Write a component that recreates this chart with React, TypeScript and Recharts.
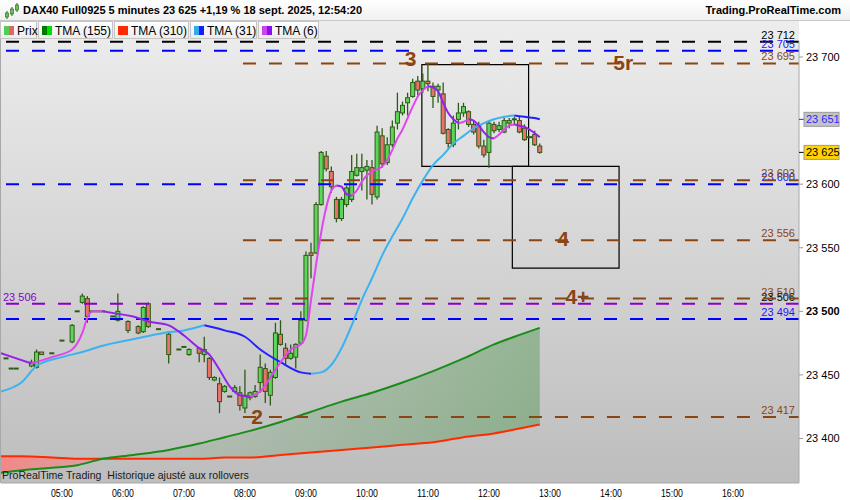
import React from 'react';
import {
  ComposedChart, Bar, Line, Area, XAxis, YAxis, ReferenceLine, ReferenceArea, ReferenceDot
} from 'recharts';

// 5-minute candles (time = candle open)
const candleTimes = [
  '04:05', '04:10', '04:15', '04:30', '04:35', '04:40', '04:50', '05:00', '05:10', '05:15',
  '05:20', '05:25', '05:30', '05:35', '05:40', '05:50', '05:55', '06:05', '06:15', '06:20',
  '06:25', '06:35', '06:45', '06:55', '07:00', '07:05', '07:15', '07:20', '07:25', '07:30',
  '07:35', '07:40', '07:45', '07:50', '07:55', '08:00', '08:05', '08:10', '08:15', '08:20',
  '08:25', '08:30', '08:35', '08:40', '08:45', '08:50', '08:55', '09:00', '09:05', '09:10',
  '09:15', '09:20', '09:25', '09:30', '09:35', '09:40', '09:45', '09:50', '09:55', '10:00',
  '10:05', '10:10', '10:15', '10:20', '10:25', '10:30', '10:35', '10:40', '10:45', '10:50',
  '10:55', '11:00', '11:05', '11:10', '11:15', '11:20', '11:25', '11:30', '11:35', '11:40',
  '11:45', '11:50', '11:55', '12:00', '12:05', '12:10', '12:15', '12:20', '12:25', '12:30',
  '12:35', '12:40', '12:45', '12:50',
];
const opens = [
  23463, 23455, 23455, 23457, 23456, 23468, 23467, 23477, 23476, 23500,
  23507, 23510, 23500, 23500, 23500, 23496, 23493, 23492, 23488, 23484,
  23506, 23486, 23482, 23470, 23472, 23466, 23471, 23466, 23463, 23446,
  23443, 23437, 23433, 23437, 23436, 23424, 23432, 23433, 23444, 23455,
  23434, 23448, 23482, 23471, 23463, 23464, 23475, 23493, 23546, 23546,
  23584, 23622, 23610, 23588, 23573, 23584, 23588, 23607, 23610, 23611,
  23613, 23590, 23638, 23617, 23631, 23648, 23656, 23664, 23669, 23681,
  23675, 23681, 23677, 23674, 23671, 23643, 23631, 23651, 23656, 23657,
  23647, 23646, 23630, 23625, 23647, 23643, 23641, 23648, 23650, 23650,
  23644, 23637, 23639, 23630,
];
const highs = [
  23463, 23455, 23455, 23462, 23470, 23468, 23467, 23477, 23490, 23500,
  23514, 23512, 23500, 23500, 23500, 23496, 23514, 23493, 23489, 23504,
  23507, 23486, 23483, 23470, 23472, 23471, 23472, 23480, 23464, 23449,
  23448, 23442, 23433, 23442, 23441, 23454, 23437, 23442, 23466, 23459,
  23454, 23491, 23493, 23475, 23474, 23475, 23500, 23547, 23554, 23586,
  23626, 23626, 23614, 23590, 23590, 23599, 23623, 23624, 23624, 23619,
  23619, 23646, 23644, 23637, 23650, 23672, 23665, 23672, 23683, 23685,
  23687, 23695, 23680, 23679, 23680, 23644, 23654, 23664, 23664, 23658,
  23650, 23649, 23635, 23650, 23649, 23649, 23652, 23652, 23653, 23653,
  23647, 23637, 23642, 23632,
];
const lows = [
  23463, 23455, 23455, 23456, 23455, 23466, 23467, 23477, 23475, 23500,
  23506, 23491, 23500, 23500, 23500, 23496, 23492, 23483, 23482, 23483,
  23487, 23486, 23459, 23470, 23472, 23465, 23460, 23460, 23446, 23445,
  23420, 23436, 23433, 23436, 23422, 23420, 23430, 23432, 23436, 23428,
  23426, 23447, 23473, 23458, 23462, 23455, 23474, 23492, 23526, 23545,
  23583, 23610, 23593, 23570, 23571, 23582, 23586, 23606, 23595, 23588,
  23584, 23588, 23613, 23615, 23629, 23643, 23654, 23654, 23668, 23670,
  23672, 23673, 23660, 23664, 23639, 23628, 23629, 23643, 23653, 23645,
  23639, 23628, 23621, 23613, 23640, 23641, 23640, 23644, 23647, 23640,
  23634, 23637, 23630, 23624,
];
const closes = [
  23463, 23455, 23455, 23460, 23468, 23466, 23467, 23477, 23489, 23500,
  23512, 23496, 23500, 23500, 23500, 23496, 23500, 23485, 23483, 23503,
  23488, 23486, 23466, 23470, 23472, 23470, 23467, 23470, 23448, 23448,
  23429, 23441, 23433, 23440, 23426, 23434, 23436, 23437, 23456, 23437,
  23452, 23483, 23474, 23463, 23467, 23474, 23493, 23544, 23544, 23584,
  23625, 23612, 23598, 23573, 23588, 23597, 23610, 23613, 23613, 23614,
  23592, 23641, 23616, 23631, 23645, 23657, 23662, 23668, 23680, 23674,
  23681, 23679, 23669, 23677, 23640, 23632, 23648, 23656, 23661, 23647,
  23641, 23630, 23623, 23648, 23642, 23646, 23650, 23650, 23651, 23641,
  23635, 23637, 23631, 23625,
];

// TMA (6)
const tma6Times = [
  '04:00', '04:15', '04:30', '04:50', '05:10', '05:20', '05:25', '05:30', '05:40', '05:55',
  '06:10', '06:25', '06:45', '07:00', '07:15', '07:25', '07:35', '07:45', '07:55', '08:05',
  '08:15', '08:25', '08:35', '08:45', '08:55', '09:00', '09:05', '09:10', '09:15', '09:20',
  '09:25', '09:30', '09:35', '09:40', '09:45', '09:50', '09:55', '10:00', '10:05', '10:15',
  '10:20', '10:25', '10:30', '10:35', '10:40', '10:45', '10:50', '10:55', '11:00', '11:05',
  '11:10', '11:15', '11:20', '11:25', '11:30', '11:35', '11:40', '11:45', '11:50', '11:55',
  '12:00', '12:05', '12:10', '12:15', '12:20', '12:25', '12:30', '12:35', '12:40', '12:45',
  '12:50',
];
const tma6Values = [
  23467, 23463, 23459, 23464, 23470, 23483, 23495, 23500, 23500, 23498,
  23496, 23492, 23489, 23481, 23471, 23466, 23454, 23441, 23434, 23433,
  23437, 23448, 23460, 23470, 23474, 23481, 23509, 23537, 23562, 23582,
  23595, 23599, 23598, 23592, 23591, 23595, 23602, 23607, 23610, 23614,
  23619, 23627, 23636, 23643, 23652, 23661, 23669, 23674, 23677, 23676,
  23673, 23664, 23656, 23651, 23648, 23649, 23651, 23650, 23646, 23641,
  23637, 23636, 23639, 23643, 23646, 23647, 23646, 23645, 23643, 23640,
  23637,
];

// TMA (31)
const tma31Times = [
  '04:00', '04:20', '04:35', '05:00', '05:20', '05:40', '06:10', '06:40', '07:00', '07:20',
  '07:40', '08:00', '08:15', '08:35', '08:55', '09:05', '09:15', '09:25', '09:35', '09:45',
  '09:55', '10:05', '10:15', '10:25', '10:35', '10:45', '10:55', '11:05', '11:15', '11:25',
  '11:35', '11:45', '11:55', '12:05', '12:15', '12:25', '12:35', '12:45', '12:50',
];
const tma31Values = [
  23437, 23444, 23457, 23464, 23468, 23473, 23478, 23483, 23485, 23489,
  23485, 23480, 23470, 23460, 23452, 23451, 23452, 23458, 23471, 23489,
  23509, 23526, 23544, 23559, 23573, 23589, 23603, 23615, 23623, 23632,
  23638, 23644, 23648, 23651, 23653, 23654, 23653, 23652, 23651,
];

// TMA (155) / TMA (310)
const tmaLongTimes = [
  '04:00', '04:20', '04:50', '05:15', '05:40', '06:10', '06:45', '07:15', '07:40', '08:05',
  '08:35', '09:05', '09:35', '10:05', '10:35', '11:05', '11:35', '12:05', '12:25', '12:50',
];
const tma155Values = [
  23373, 23375, 23377, 23379, 23384, 23387, 23391, 23396, 23401, 23406,
  23413, 23421, 23429, 23436, 23444, 23453, 23463, 23474, 23480, 23487,
];
const tma310Values = [
  23386, 23386, 23385, 23384, 23384, 23384, 23384, 23384, 23385, 23385,
  23387, 23389, 23391, 23393, 23395, 23397, 23401, 23404, 23407, 23411,
];

const timeTicks = ['05:00', '06:00', '07:00', '08:00', '09:00', '10:00', '11:00', '12:00', '13:00', '14:00', '15:00', '16:00'];
const priceTicks = [23400, 23450, 23500, 23550, 23600, 23625, 23651, 23700];
const lastPrice = 23625;
const lastTma31 = 23651;

// horizontal levels
const blackLevels = [23712];
const blueLevels = [23705, 23600, 23494];
const purpleLevels = [23506];
const brownLevels = [23695, 23603, 23556, 23510, 23417];
const brownStart = '07:58';

// wave counts and boxes
const waveLabels = ['2', '3', '4', '4+', '5r'];
const waveTimes = ['08:12', '10:43', '13:13', '13:27', '14:12'];
const wavePrices = [23418, 23699, 23558, 23512, 23696];
const boxStarts = ['10:54', '12:23'];
const boxEnds = ['12:39', '14:08'];
const boxHighs = [23694, 23614];
const boxLows = [23614, 23534];

const BASE = 4 * 60;
const toMin = (s: string) => {
  const [h, m] = s.split(':').map(Number);
  return h * 60 + m - BASE;
};
const fmtTime = (m: number) => {
  const t = m + BASE;
  return `${String(Math.floor(t / 60)).padStart(2, '0')}:${String(t % 60).padStart(2, '0')}`;
};
const fmtPrice = (v: number) => `${Math.floor(v / 1000)} ${String(v % 1000).padStart(3, '0')}`;

const X_MAX = 785;
const Y_DOMAIN: [number, number] = [23365, 23712.6];

const WICK = '#2f5a16';
const UP = '#5bd65b';
const DOWN = '#e8736b';
const BROWN = '#8b4513';
const NARROW = '"Liberation Sans Narrow", "Arial Narrow", Arial, sans-serif';

const candles = candleTimes.map((t, i) => ({
  t: toMin(t), open: opens[i], high: highs[i], low: lows[i], close: closes[i],
}));

const toPoints = (times: string[], values: number[]) =>
  times.map((t, i) => ({ t: toMin(t), v: values[i] }));

// split a line into rising / falling runs so each gets its own colour
const splitRuns = (pts: { t: number; v: number }[]) => {
  const runs: { up: boolean; pts: { t: number; v: number }[] }[] = [];
  for (let i = 1; i < pts.length; i++) {
    const up = pts[i].v >= pts[i - 1].v;
    const last = runs[runs.length - 1];
    if (last && last.up === up) last.pts.push(pts[i]);
    else runs.push({ up, pts: [pts[i - 1], pts[i]] });
  }
  return runs;
};

const tma6Runs = splitRuns(toPoints(tma6Times, tma6Values));
const tma31Runs = splitRuns(toPoints(tma31Times, tma31Values));
const tma155 = toPoints(tmaLongTimes, tma155Values);
const tma310 = toPoints(tmaLongTimes, tma310Values);

const bandData = tmaLongTimes.map((t, i) => ({ t: toMin(t), a: tma155Values[i], b: tma310Values[i] }));
const crossIdx = bandData.findIndex((d) => d.a >= d.b);
const pinkBand = bandData.slice(0, crossIdx + 1).map((d) => ({ t: d.t, range: [d.a, d.b] }));
const greenBand = bandData.slice(crossIdx).map((d) => ({ t: d.t, range: [d.b, d.a] }));

const CandleShape = (props: any) => {
  const { x, y, width, height, payload } = props;
  if (x == null || y == null || !payload) return null;
  const { open, close, high, low } = payload;
  const cx = x + width / 2;
  if (high === low) {
    return <line x1={cx - 2.5} x2={cx + 2.5} y1={y} y2={y} stroke={WICK} strokeWidth={2} />;
  }
  const k = height / (high - low);
  const py = (v: number) => y + (high - v) * k;
  const top = py(Math.max(open, close));
  const bot = py(Math.min(open, close));
  return (
    <g>
      <line x1={cx} x2={cx} y1={y} y2={y + height} stroke={WICK} strokeWidth={1.3} />
      {bot - top < 1.5 ? (
        <line x1={cx - 2.5} x2={cx + 2.5} y1={top} y2={top} stroke={WICK} strokeWidth={2} />
      ) : (
        <rect x={cx - 2} y={top} width={4} height={bot - top}
          fill={close >= open ? UP : DOWN} stroke={WICK} strokeWidth={1} />
      )}
    </g>
  );
};

const LevelLabel = (props: any) => {
  const { viewBox, text, color, leftText, leftColor } = props;
  if (!viewBox) return null;
  return (
    <g style={{ fontFamily: 'Arial, sans-serif' }}>
      <text x={viewBox.x + viewBox.width - 4} y={viewBox.y - 3} textAnchor="end" fontSize={11} fill={color}>{text}</text>
      {leftText && (
        <text x={viewBox.x + 2} y={viewBox.y - 3} fontSize={11} fill={leftColor}>{leftText}</text>
      )}
    </g>
  );
};

const TimeTick = (props: any) => {
  const { x, y, payload } = props;
  return (
    <text x={x} y={y + 14} textAnchor="middle" fontSize={11} fill="#000" textLength={22}
      lengthAdjust="spacingAndGlyphs" style={{ fontFamily: NARROW }}>
      {fmtTime(payload.value)}
    </text>
  );
};

const PriceTick = (props: any) => {
  const { x, y, payload } = props;
  const v = payload.value;
  const ax = x;
  if (v === lastTma31 || v === lastPrice) {
    const isLast = v === lastPrice;
    return (
      <g style={{ fontFamily: 'Arial, sans-serif' }}>
        <line x1={ax} x2={ax + 5} y1={y} y2={y} stroke={isLast ? '#000' : '#2020ff'} />
        <rect x={ax + 5} y={y - 7} width={35} height={14} fill={isLast ? '#ffd400' : '#c4c4c4'} stroke="#999" />
        <text x={ax + 7} y={y + 4} fontSize={11} fill={isLast ? '#000' : '#2a2aff'}>{fmtPrice(v)}</text>
      </g>
    );
  }
  return (
    <g style={{ fontFamily: 'Arial, sans-serif' }}>
      <line x1={ax} x2={ax + 4} y1={y} y2={y} stroke="#999" />
      <text x={ax + 7} y={y + 4} fontSize={11} fill="#000" fontWeight={v === 23500 ? 'bold' : 'normal'}>{fmtPrice(v)}</text>
    </g>
  );
};

const legendItems = [
  { label: 'Prix', c1: '#55cc55', c2: '#e06666', w: 37 },
  { label: 'TMA (155)', c1: '#007a00', c2: '#00dd00', w: 75 },
  { label: 'TMA (310)', c1: '#ff2a00', c2: '#ff2a00', w: 75 },
  { label: 'TMA (31)', c1: '#33aaee', c2: '#1a1aff', w: 67 },
  { label: 'TMA (6)', c1: '#cc44ee', c2: '#8a10f0', w: 61 },
];

export default function App() {
  let lx = 0;
  return (
    <div style={{ position: 'absolute', left: 0, top: 0, width: 850, height: 500, background: '#fff', overflow: 'hidden', fontFamily: 'Arial, "Liberation Sans", sans-serif' }}>
      <div style={{ position: 'absolute', left: 0, top: 21, width: 798, height: 462, background: 'linear-gradient(#ededed, #bdbdbd)', borderLeft: '1px solid #a8a8a8' }} />
      <div style={{ position: 'absolute', left: 0, top: 0 }}>
        <ComposedChart width={850} height={500} data={candles} margin={{ top: 41, right: 0, bottom: 0, left: 1 }}>
          <defs>
            <linearGradient id="greenBand" x1="0" y1="0" x2="1" y2="0">
              <stop offset="0%" stopColor="#2e8b2e" stopOpacity={0.04} />
              <stop offset="100%" stopColor="#2e8b2e" stopOpacity={0.36} />
            </linearGradient>
            <linearGradient id="pinkBand" x1="0" y1="0" x2="1" y2="0">
              <stop offset="0%" stopColor="#ff7a7a" stopOpacity={0.8} />
              <stop offset="100%" stopColor="#ff7a7a" stopOpacity={0.4} />
            </linearGradient>
          </defs>
          <XAxis dataKey="t" type="number" domain={[0, X_MAX]} allowDataOverflow height={17}
            ticks={timeTicks.map(toMin)} tick={<TimeTick />} tickLine={false} tickSize={0} tickMargin={0}
            axisLine={{ stroke: '#a8a8a8' }} interval={0} />
          <YAxis orientation="right" type="number" domain={Y_DOMAIN} allowDataOverflow width={51}
            ticks={priceTicks} tick={<PriceTick />} tickLine={false} tickSize={0} tickMargin={0}
            axisLine={{ stroke: '#a8a8a8' }} interval={0} />

          <Area data={pinkBand} dataKey="range" stroke="none" fill="url(#pinkBand)" fillOpacity={1} isAnimationActive={false} type="monotone" />
          <Area data={greenBand} dataKey="range" stroke="none" fill="url(#greenBand)" fillOpacity={1} isAnimationActive={false} type="monotone" />
          <Line data={tma310} dataKey="v" stroke="#ff2a00" strokeWidth={2} dot={false} isAnimationActive={false} type="monotone" />
          <Line data={tma155} dataKey="v" stroke="#1a8c1a" strokeWidth={2} dot={false} isAnimationActive={false} type="monotone" />

          {blackLevels.map((v) => (
            <ReferenceLine key={`k${v}`} y={v} stroke="#000" strokeWidth={2} strokeDasharray="13 13"
              label={<LevelLabel text={fmtPrice(v)} color="#000" />} />
          ))}
          {blueLevels.map((v) => (
            <ReferenceLine key={`b${v}`} y={v} stroke="#0000ff" strokeWidth={2} strokeDasharray="13 13"
              label={<LevelLabel text={fmtPrice(v)} color="#1a1aff" />} />
          ))}
          {purpleLevels.map((v) => (
            <ReferenceLine key={`p${v}`} y={v} stroke="#8a00c8" strokeWidth={2} strokeDasharray="13 13"
              label={<LevelLabel text={fmtPrice(v)} color="#000" leftText={fmtPrice(v)} leftColor="#8a00c8" />} />
          ))}
          {brownLevels.map((v) => (
            <ReferenceLine key={`r${v}`} segment={[{ x: toMin(brownStart), y: v }, { x: X_MAX, y: v }]}
              stroke={BROWN} strokeWidth={2} strokeDasharray="13 13"
              label={<LevelLabel text={fmtPrice(v)} color={BROWN} />} />
          ))}

          <Bar dataKey={(d: any) => [d.low, d.high]} barSize={5} shape={<CandleShape />} isAnimationActive={false} />

          {tma31Runs.map((r, i) => (
            <Line key={`m31-${i}`} data={r.pts} dataKey="v" stroke={r.up ? '#3cb2f0' : '#2222ff'} strokeWidth={2}
              dot={false} isAnimationActive={false} type="monotone" />
          ))}
          {tma6Runs.map((r, i) => (
            <Line key={`m6-${i}`} data={r.pts} dataKey="v" stroke={r.up ? '#e045ee' : '#9420f0'} strokeWidth={2}
              dot={false} isAnimationActive={false} type="monotone" />
          ))}

          {boxStarts.map((s, i) => (
            <ReferenceArea key={`box${i}`} x1={toMin(s)} x2={toMin(boxEnds[i])} y1={boxLows[i]} y2={boxHighs[i]}
              fill="none" fillOpacity={0} stroke="#000" strokeWidth={1.2} ifOverflow="extendDomain" />
          ))}
          {waveLabels.map((w, i) => (
            <ReferenceDot key={`w${i}`} x={toMin(waveTimes[i])} y={wavePrices[i]} r={0}
              shape={(p: any) => (
                <text x={p.cx} y={p.cy + 8} textAnchor="middle" fontSize={21} fontWeight="bold" fill={BROWN}
                  style={{ fontFamily: 'Arial, sans-serif' }}>{w}</text>
              )} />
          ))}
        </ComposedChart>
      </div>

      {/* header */}
      <div style={{ position: 'absolute', left: 0, top: 0, width: 850, height: 20, background: 'linear-gradient(#ffffff, #f0f0f0)', borderBottom: '1px solid #c8c8c8' }}>
        <svg width={16} height={18} style={{ position: 'absolute', left: 4, top: 2 }}>
          <line x1={3} x2={3} y1={9} y2={17} stroke="#2f5a16" />
          <rect x={1.5} y={11} width={3} height={4} fill="#55cc55" stroke="#2f5a16" strokeWidth={0.6} />
          <line x1={8} x2={8} y1={5} y2={14} stroke="#2f5a16" />
          <rect x={6.5} y={7} width={3} height={5} fill="#55cc55" stroke="#2f5a16" strokeWidth={0.6} />
          <line x1={13} x2={13} y1={1} y2={10} stroke="#2f5a16" />
          <rect x={11.5} y={3} width={3} height={5} fill="#55cc55" stroke="#2f5a16" strokeWidth={0.6} />
        </svg>
        <div style={{ position: 'absolute', left: 23, top: 4, fontSize: 11, fontWeight: 'bold', color: '#000', whiteSpace: 'nowrap' }}>
          DAX40 Full0925 5 minutes 23 625 +1,19 % 18 sept. 2025, 12:54:20
        </div>
        <div style={{ position: 'absolute', right: 9, top: 4, fontSize: 11, fontWeight: 'bold', color: '#000' }}>
          Trading.ProRealTime.com
        </div>
      </div>

      {/* legend */}
      {legendItems.map((it) => {
        const left = lx;
        lx += it.w + 1;
        return (
          <div key={it.label} style={{ position: 'absolute', left, top: 21, width: it.w, height: 18, background: 'linear-gradient(#ffffff, #ececec)', border: '1px solid #c4c4c4', boxSizing: 'border-box' }}>
            <div style={{ position: 'absolute', left: 3, top: 4, width: 5, height: 9, background: it.c1 }} />
            <div style={{ position: 'absolute', left: 8, top: 4, width: 5, height: 9, background: it.c2 }} />
            <div style={{ position: 'absolute', left: 16, top: 2, fontSize: 12, color: '#000', whiteSpace: 'nowrap' }}>{it.label}</div>
          </div>
        );
      })}

      <div style={{ position: 'absolute', left: 2, top: 469, fontSize: 11, color: '#1a1a1a', fontFamily: NARROW, whiteSpace: 'nowrap', transform: 'scaleX(0.96)', transformOrigin: 'left top' }}>
        ProRealTime Trading&nbsp; Historique ajusté aux rollovers
      </div>
    </div>
  );
}
